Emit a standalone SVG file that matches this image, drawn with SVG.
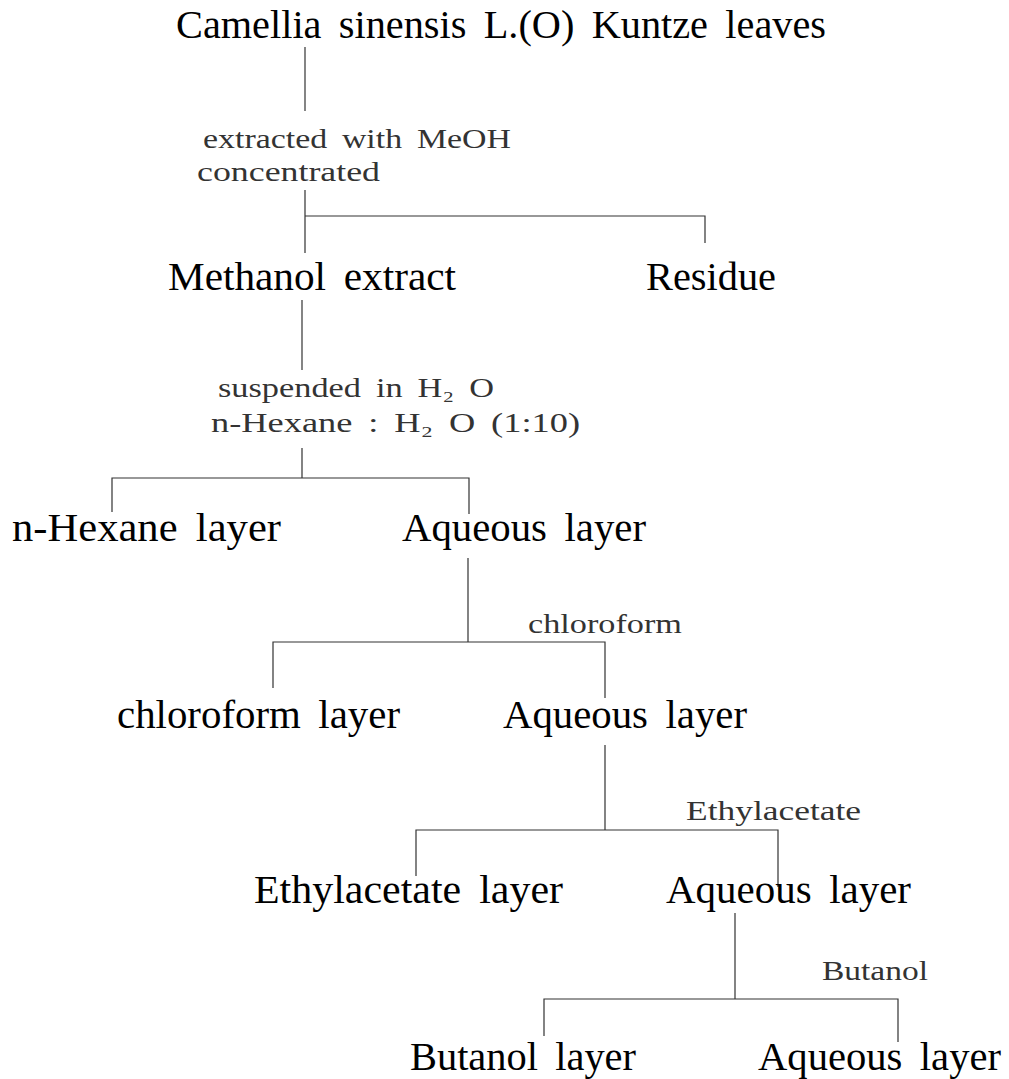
<svg xmlns="http://www.w3.org/2000/svg" width="1009" height="1079" viewBox="0 0 1009 1079">
<style>
.n{font-family:"Liberation Serif","DejaVu Serif",serif;font-size:39px;fill:#000;word-spacing:7px}
.a{font-family:"Liberation Serif","DejaVu Serif",serif;font-size:27px;fill:#333;word-spacing:5px}
.c{stroke:#333;stroke-width:1.2;fill:none}
</style>
<rect width="1009" height="1079" fill="#fff"/>
<g id="connectors" class="c">
<path d="M305 47V111"/>
<path d="M305 190V253M305 216H705V243"/>
<path d="M302 300V370"/>
<path d="M302 448V478M112 512V478H469V514"/>
<path d="M468 558V642M273 688V642H605V698"/>
<path d="M605 745V830M416 876V830H778V887"/>
<path d="M735 913V999M544 1036V999H898V1042"/>
</g>
<g id="n-leaves"><text class="n" x="176" y="38" textLength="650" lengthAdjust="spacingAndGlyphs">Camellia sinensis L.(O) Kuntze leaves</text></g>
<g id="l-meoh"><text class="a" x="203" y="148" textLength="308" lengthAdjust="spacingAndGlyphs">extracted with MeOH</text><text class="a" x="197" y="181" textLength="183" lengthAdjust="spacingAndGlyphs">concentrated</text></g>
<g id="n-methanol"><text class="n" x="168" y="290" textLength="288" lengthAdjust="spacingAndGlyphs">Methanol extract</text></g>
<g id="n-residue"><text class="n" x="646" y="290" textLength="130" lengthAdjust="spacingAndGlyphs">Residue</text></g>
<g id="l-suspend"><text class="a" x="218" y="397" textLength="276" lengthAdjust="spacingAndGlyphs">suspended in H₂ O</text><text class="a" x="211" y="432" textLength="369" lengthAdjust="spacingAndGlyphs">n-Hexane :  H₂ O (1:10)</text></g>
<g id="n-hexane"><text class="n" x="12" y="541" textLength="269" lengthAdjust="spacingAndGlyphs">n-Hexane layer</text></g>
<g id="n-aq1"><text class="n" x="402" y="541" textLength="244" lengthAdjust="spacingAndGlyphs">Aqueous layer</text></g>
<g id="l-chloroform"><text class="a" x="528" y="633" textLength="154" lengthAdjust="spacingAndGlyphs">chloroform</text></g>
<g id="n-chloroform"><text class="n" x="117" y="728" textLength="283" lengthAdjust="spacingAndGlyphs">chloroform layer</text></g>
<g id="n-aq2"><text class="n" x="503" y="728" textLength="244" lengthAdjust="spacingAndGlyphs">Aqueous layer</text></g>
<g id="l-etoac"><text class="a" x="686" y="820" textLength="175" lengthAdjust="spacingAndGlyphs">Ethylacetate</text></g>
<g id="n-etoac"><text class="n" x="254" y="903" textLength="309" lengthAdjust="spacingAndGlyphs">Ethylacetate layer</text></g>
<g id="n-aq3"><text class="n" x="666" y="903" textLength="245" lengthAdjust="spacingAndGlyphs">Aqueous layer</text></g>
<g id="l-butanol"><text class="a" x="822" y="980" textLength="106" lengthAdjust="spacingAndGlyphs">Butanol</text></g>
<g id="n-butanol"><text class="n" x="410" y="1070" textLength="226" lengthAdjust="spacingAndGlyphs">Butanol layer</text></g>
<g id="n-aq4"><text class="n" x="758" y="1070" textLength="243" lengthAdjust="spacingAndGlyphs">Aqueous layer</text></g>
</svg>
